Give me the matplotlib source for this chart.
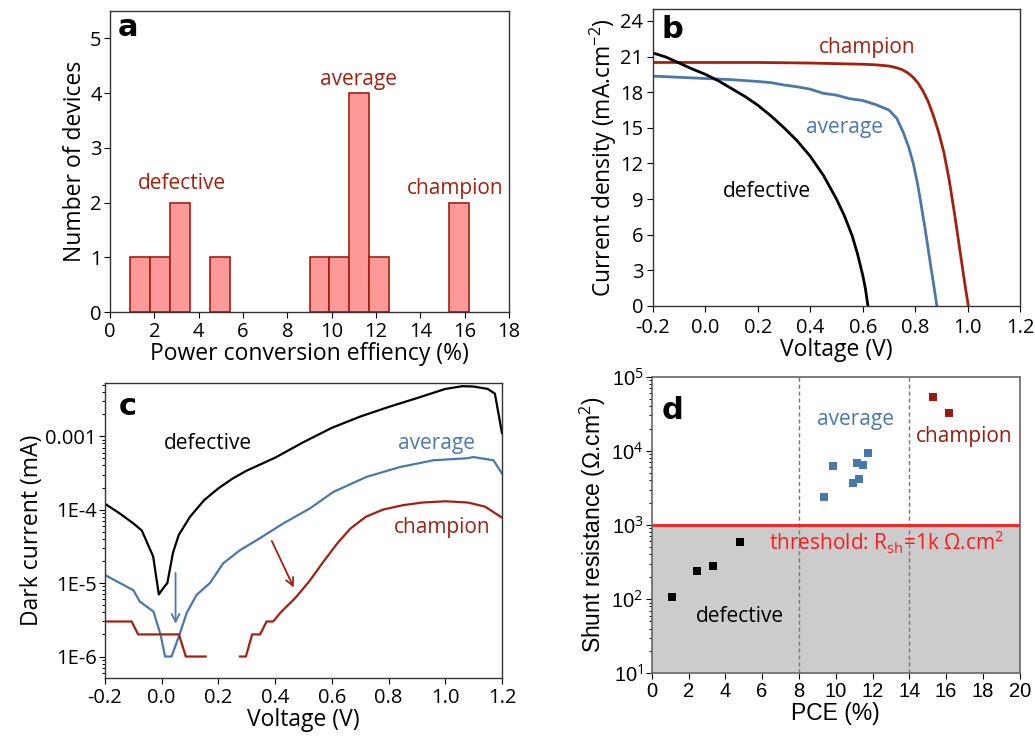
import numpy as np
import matplotlib
matplotlib.use("Agg")
import matplotlib.pyplot as plt
from matplotlib.ticker import LogLocator, FixedLocator, NullFormatter

plt.rcParams['font.family'] = ['Open Sans', 'DejaVu Sans']
plt.rcParams['axes.unicode_minus'] = False
plt.rcParams['mathtext.fontset'] = 'custom'
plt.rcParams['mathtext.rm'] = 'Open Sans'

DARKRED = '#a3200f'
BLUE = '#4a78aa'

# ---------------- data ----------------
# (a) histogram
hist_bin_left = [0.9, 1.8, 2.7, 4.5, 9.0, 9.9, 10.8, 11.7, 15.3]
hist_counts = [1, 1, 2, 1, 1, 1, 4, 1, 2]
hist_width = 0.9

# (b) J-V curves
champ_v = [-0.2, 0.0, 0.2, 0.4, 0.5, 0.6, 0.65, 0.7, 0.73, 0.75, 0.77, 0.79, 0.81, 0.83,
           0.85, 0.87, 0.89, 0.91, 0.93, 0.95, 0.97, 0.99, 1.003]
champ_j = [20.5, 20.5, 20.5, 20.45, 20.4, 20.35, 20.3, 20.2, 20.05, 19.9, 19.65, 19.3, 18.8,
           18.1, 17.2, 16.0, 14.6, 12.9, 10.6, 7.8, 4.8, 1.8, 0.0]
avg_v = [-0.2, -0.1, 0.0, 0.1, 0.2, 0.25, 0.3, 0.35, 0.4, 0.45, 0.5, 0.55, 0.6, 0.65, 0.7,
         0.73, 0.755, 0.775, 0.793, 0.81, 0.82, 0.835, 0.845, 0.86, 0.87, 0.883]
avg_j = [19.35, 19.25, 19.15, 19.05, 18.9, 18.8, 18.6, 18.45, 18.25, 17.9, 17.75, 17.45, 17.3,
         16.95, 16.5, 15.8, 14.6, 13.4, 12.0, 10.2, 8.9, 6.9, 5.5, 3.3, 1.9, 0.0]
def_v = [-0.2, -0.15, -0.1, -0.05, 0.0, 0.05, 0.1, 0.15, 0.2, 0.25, 0.3, 0.35, 0.4, 0.45,
         0.5, 0.53, 0.56, 0.58, 0.6, 0.61, 0.62]
def_j = [21.3, 20.95, 20.45, 19.95, 19.5, 18.95, 18.3, 17.65, 16.9, 16.0, 15.0, 13.9, 12.6,
         11.0, 9.0, 7.6, 5.9, 4.4, 2.6, 1.5, 0.0]

# (c) dark current
dk_def_v = [-0.2, -0.15, -0.1, -0.07, -0.03, -0.01, 0.01, 0.02, 0.04, 0.06, 0.1, 0.15, 0.2,
            0.25, 0.3, 0.4, 0.5, 0.6, 0.7, 0.8, 0.9, 1.0, 1.06, 1.1, 1.15, 1.175, 1.2]
dk_def_i = [1.2e-4, 9e-5, 6.5e-5, 5.2e-5, 2.3e-5, 7e-6, 9e-6, 1e-5, 2.6e-5, 4.5e-5, 8e-5,
            1.35e-4, 1.95e-4, 2.65e-4, 3.4e-4, 5.1e-4, 8.3e-4, 1.3e-3, 1.85e-3, 2.5e-3,
            3.3e-3, 4.4e-3, 4.8e-3, 4.75e-3, 4.4e-3, 3.8e-3, 1.1e-3]
dk_avg_v = [-0.2, -0.1, -0.077, -0.029, -0.004, 0.012, 0.035, 0.063, 0.088, 0.123, 0.17,
            0.217, 0.276, 0.347, 0.429, 0.523, 0.605, 0.723, 0.84, 0.958, 1.075, 1.1, 1.17,
            1.2]
dk_avg_i = [1.29e-5, 8e-6, 5.6e-6, 4.1e-6, 2e-6, 1e-6, 1e-6, 2e-6, 3.9e-6, 6.9e-6, 1e-5,
            1.86e-5, 2.8e-5, 4.1e-5, 6.5e-5, 1.04e-4, 1.74e-4, 2.8e-4, 3.8e-4, 4.7e-4, 5e-4,
            5.2e-4, 4.7e-4, 3.1e-4]
dk_ch_v = [-0.2, -0.106, -0.083, 0.061, 0.085, 0.155, np.nan, 0.276, 0.297, 0.319, 0.347,
           0.37, 0.393, 0.42, 0.47, 0.52, 0.57, 0.62, 0.665, 0.72, 0.78, 0.85, 0.92, 1.0,
           1.08, 1.14, 1.2]
dk_ch_i = [3e-6, 3e-6, 2e-6, 2e-6, 1e-6, 1e-6, np.nan, 1e-6, 1e-6, 2e-6, 2e-6, 3e-6, 3e-6,
           4e-6, 6.2e-6, 1.05e-5, 1.95e-5, 3.5e-5, 5.5e-5, 8e-5, 1e-4, 1.15e-4, 1.25e-4,
           1.3e-4, 1.25e-4, 1.1e-4, 7.8e-5]

# (d) shunt resistance
def_pce = [1.12, 2.48, 3.35, 4.82]
def_rsh = [108, 237, 280, 596]
avg_pce = [9.38, 9.87, 10.96, 11.18, 11.29, 11.5, 11.78]
avg_rsh = [2360, 6300, 3650, 6760, 4130, 6480, 9440]
ch_pce = [15.31, 16.18]
ch_rsh = [53700, 32700]
threshold = 1000

# ---------------- figure ----------------
fig = plt.figure(figsize=(10.35, 7.38), dpi=100)
axa = fig.add_axes([0.1063, 0.5772, 0.3855, 0.4079])
axb = fig.add_axes([0.6309, 0.5854, 0.3546, 0.4024])
axc = fig.add_axes([0.1014, 0.0813, 0.3836, 0.3997])
axd = fig.add_axes([0.6297, 0.0877, 0.3555, 0.4019])

TICK = 14.5
LAB = 16.5
TXT = 15
PANEL = dict(fontsize=22, fontweight='bold', family='DejaVu Sans', color='black')

for ax in (axa, axb, axc):
    ax.tick_params(direction='out', labelsize=TICK, length=4, width=0.8, pad=2)
    ax.tick_params(axis='x', pad=3)
    for s in ax.spines.values():
        s.set_linewidth(1.0)
        s.set_color('#333333')
axb.tick_params(axis='x', pad=5)
axb.tick_params(axis='y', pad=3)

# (a)
axa.bar(hist_bin_left, hist_counts, width=hist_width, align='edge',
        color='#fc9a9a', edgecolor='#a81c10', linewidth=1.2)
axa.set_xlim(0, 18)
axa.set_ylim(0, 5.5)
axa.set_xticks(range(0, 19, 2))
axa.set_yticks(range(0, 6))
axa.set_xlabel('Power conversion effiency (%)', fontsize=LAB, labelpad=0)
axa.set_ylabel('Number of devices', fontsize=LAB, labelpad=2)
axa.text(3.25, 2.35, 'defective', color=DARKRED, fontsize=TXT, ha='center', va='center')
axa.text(11.2, 4.25, 'average', color=DARKRED, fontsize=TXT, ha='center', va='center')
axa.text(15.56, 2.25, 'champion', color=DARKRED, fontsize=TXT, ha='center', va='center')
axa.text(0.8, 5.2, 'a', ha='center', va='center', **PANEL)

# (b)
axb.plot(champ_v, champ_j, color=DARKRED, lw=2)
axb.plot(avg_v, avg_j, color=BLUE, lw=2)
axb.plot(def_v, def_j, color='black', lw=2)
axb.set_xlim(-0.2, 1.2)
axb.set_ylim(0, 25)
axb.set_xticks(np.round(np.arange(-0.2, 1.21, 0.2), 1))
axb.set_xticklabels(['%.1f' % v for v in np.arange(-0.2, 1.21, 0.2)])
axb.set_yticks(range(0, 25, 3))
axb.set_xlabel('Voltage (V)', fontsize=LAB, labelpad=0)
axb.set_ylabel('Current density (mA.cm$^{-2}$)', fontsize=LAB, labelpad=1)
axb.text(0.616, 21.8, 'champion', color=DARKRED, fontsize=TXT, ha='center', va='center')
axb.text(0.529, 15.0, 'average', color=BLUE, fontsize=TXT, ha='center', va='center')
axb.text(0.234, 9.6, 'defective', color='black', fontsize=TXT, ha='center', va='center')
axb.text(-0.125, 23.3, 'b', ha='center', va='center', **PANEL)

# (c)
axc.semilogy(dk_def_v, dk_def_i, color='black', lw=1.6)
axc.semilogy(dk_avg_v, dk_avg_i, color=BLUE, lw=1.6)
axc.semilogy(dk_ch_v, dk_ch_i, color=DARKRED, lw=1.6)
axc.set_xlim(-0.2, 1.2)
axc.set_ylim(5.1e-7, 5.3e-3)
axc.set_xticks(np.round(np.arange(-0.2, 1.21, 0.2), 1))
axc.set_xticklabels(['%.1f' % v for v in np.arange(-0.2, 1.21, 0.2)])
axc.yaxis.set_major_locator(FixedLocator([1e-6, 1e-5, 1e-4, 1e-3]))
axc.set_yticklabels(['1E-6', '1E-5', '1E-4', '0.001'])
axc.yaxis.set_minor_locator(LogLocator(base=10, subs=np.arange(2, 10), numticks=20))
axc.yaxis.set_minor_formatter(NullFormatter())
axc.tick_params(axis='y', which='minor', length=2.5, width=0.7)
axc.set_xlabel('Voltage (V)', fontsize=LAB, labelpad=0)
axc.set_ylabel('Dark current (mA)', fontsize=LAB, labelpad=1)
axc.annotate('', xy=(0.049, 2.56e-6), xytext=(0.049, 1.5e-5),
             arrowprops=dict(arrowstyle='->', color=BLUE, lw=1.3, mutation_scale=14))
axc.annotate('', xy=(0.47, 8.05e-6), xytext=(0.384, 4.06e-5),
             arrowprops=dict(arrowstyle='->', color=DARKRED, lw=1.3, mutation_scale=14))
axc.text(0.164, 7.9e-4, 'defective', color='black', fontsize=TXT, ha='center', va='center')
axc.text(0.97, 7.9e-4, 'average', color=BLUE, fontsize=TXT, ha='center', va='center')
axc.text(0.988, 5.8e-5, 'champion', color=DARKRED, fontsize=TXT, ha='center', va='center')
axc.text(-0.12, 2.5e-3, 'c', ha='center', va='center', **PANEL)

# (d)
ARIAL = 'Liberation Sans'
axd.axhspan(10, threshold, color='#cccccc', zorder=0)
axd.axhline(threshold, color='#ff1a1a', lw=2, zorder=2)
for xv in (8, 14):
    axd.axvline(xv, color='#777777', lw=1, ls=(0, (3, 2)), zorder=1)
axd.scatter(def_pce, def_rsh, marker='s', s=40, color='black', zorder=3, linewidths=0)
axd.scatter(avg_pce, avg_rsh, marker='s', s=40, color=BLUE, zorder=3, linewidths=0)
axd.scatter(ch_pce, ch_rsh, marker='s', s=40, color='#9b1a0e', zorder=3, linewidths=0)
axd.set_yscale('log')
axd.set_xlim(0, 20)
axd.set_ylim(10, 1e5)
axd.set_xticks(range(0, 21, 2))
axd.yaxis.set_major_locator(FixedLocator([1e1, 1e2, 1e3, 1e4, 1e5]))
axd.set_yticklabels(['10$^1$', '10$^2$', '10$^3$', '10$^4$', '10$^5$'])
axd.yaxis.set_minor_locator(LogLocator(base=10, subs=np.arange(2, 10), numticks=20))
axd.yaxis.set_minor_formatter(NullFormatter())
axd.tick_params(direction='out', labelsize=TICK, length=4, width=0.8, pad=2)
axd.tick_params(axis='y', which='minor', length=2.5, width=0.7)
for lab in axd.get_xticklabels() + axd.get_yticklabels():
    lab.set_family(ARIAL)
for s in axd.spines.values():
    s.set_linewidth(1.2)
    s.set_color('#666666')
axd.set_xlabel('PCE (%)', fontsize=LAB, family=ARIAL, labelpad=1)
axd.set_ylabel('Shunt resistance (\u03a9.cm$^2$)', fontsize=LAB, family=ARIAL, labelpad=2)
axd.text(6.37, 590, 'threshold: R$_{\\rm sh}$=1k \u03a9.cm$^2$', color='#ff1a1a',
         fontsize=TXT, ha='left', va='center', zorder=4)
axd.text(11.05, 26300, 'average', color=BLUE, fontsize=TXT, ha='center', va='center')
axd.text(16.99, 15800, 'champion', color='#9b1a0e', fontsize=TXT, ha='center', va='center')
axd.text(4.8, 59, 'defective', color='black', fontsize=TXT, ha='center', va='center')
axd.text(1.15, 35000, 'd', ha='center', va='center', **PANEL)

fig.savefig('out.png', dpi=100)
